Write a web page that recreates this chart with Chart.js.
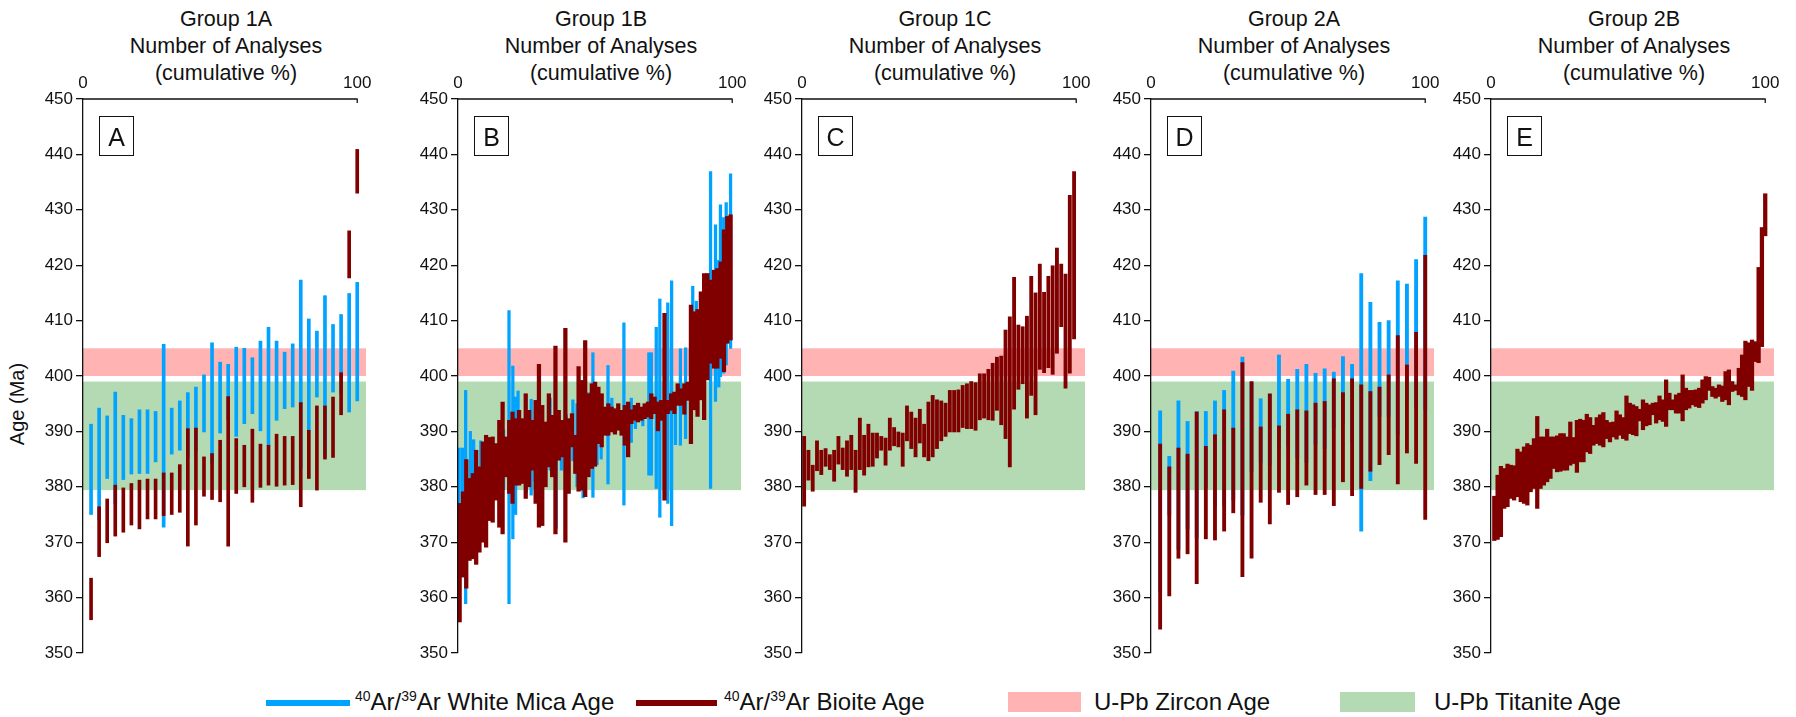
<!DOCTYPE html>
<html>
<head>
<meta charset="utf-8">
<script src="https://cdn.jsdelivr.net/npm/chart.js@4.4.0/dist/chart.umd.min.js"></script>
<style>
  body {
    margin: 0;
    width: 1796px;
    height: 717px;
    position: relative;
    overflow: hidden;
    background: #fff;
    font-family: "Liberation Sans", Arial, sans-serif;
    color: #111;
  }
  canvas { position: absolute; top: 0; }
  .title {
    position: absolute;
    top: 6px;
    width: 300px;
    text-align: center;
    font-size: 21.5px;
    line-height: 27px;
  }
  .tag {
    position: absolute;
    top: 116px;
    width: 33px;
    height: 38px;
    border: 1.5px solid #111;
    font-size: 25px;
    line-height: 40px;
    text-align: center;
  }
  .ytitle {
    position: absolute;
    left: -33px;
    top: 392px;
    width: 100px;
    text-align: center;
    font-size: 20px;
    line-height: 24px;
    transform: rotate(-90deg);
  }
  .swatch { position: absolute; }
  .legtxt {
    position: absolute;
    top: 688px;
    font-size: 24px;
    line-height: 28px;
    white-space: nowrap;
  }
  .legtxt sup { font-size: 14px; vertical-align: 9px; line-height: 0; }
</style>
</head>
<body>
<div class="ytitle">Age (Ma)</div>

<div class="swatch" style="left:266px;top:700px;width:84px;height:6px;background:#00a3ff"></div>
<span class="legtxt" style="left:355px"><sup>40</sup>Ar/<sup>39</sup>Ar White Mica Age</span>
<div class="swatch" style="left:636px;top:700px;width:81px;height:6px;background:#800000"></div>
<span class="legtxt" style="left:724px"><sup>40</sup>Ar/<sup>39</sup>Ar Bioite Age</span>
<div class="swatch" style="left:1008px;top:692px;width:73px;height:20px;background:#ffb3b3"></div>
<span class="legtxt" style="left:1094px">U-Pb Zircon Age</span>
<div class="swatch" style="left:1340px;top:692px;width:75px;height:20px;background:#b4dab4"></div>
<span class="legtxt" style="left:1434px">U-Pb Titanite Age</span>

<script>
const BLUE = "#00a3ff";
const RED = "#800000";
const FONT = "'Liberation Sans', Arial, sans-serif";

// tick labels
const ageTicks = [350, 360, 370, 380, 390, 400, 410, 420, 430, 440, 450];
const pctTicks = [0, 100];

// U-Pb reference ranges (Ma)
const zirconAge = [400, 405];
const titaniteAge = [379.4, 399];

const groupNames = ["Group 1A", "Group 1B", "Group 1C", "Group 2A", "Group 2B"];
const panelTags = ["A", "B", "C", "D", "E"];

// Group 1A  [low, high] in Ma
const micaA = [
  [375.0, 391.3], [374.1, 394.2], [381.5, 392.8], [377.0, 397.1], [381.3, 392.9],
  [382.3, 392.3], [382.4, 393.9], [382.4, 393.9], [384.5, 393.6], [372.7, 405.7],
  [385.9, 394.2], [386.6, 395.5], [385.3, 397.0], [386.5, 398.0], [389.9, 400.2],
  [384.2, 406.0], [389.7, 402.5], [392.1, 402.1], [389.1, 405.2], [391.4, 405.0],
  [393.2, 403.3], [390.1, 406.3], [387.5, 408.8], [392.0, 406.3], [394.1, 404.3],
  [394.4, 405.8], [383.3, 417.3], [390.2, 410.3], [396.2, 408.1], [385.4, 414.5],
  [397.1, 409.3], [396.8, 411.1], [393.5, 414.9], [395.5, 416.9]
];
const biotiteA = [
  [356.0, 363.5], [367.4, 376.4], [369.9, 377.8], [371.1, 380.3], [371.8, 379.8],
  [373.1, 380.6], [372.4, 381.2], [374.2, 381.4], [374.2, 381.4], [374.8, 382.5],
  [375.0, 382.5], [375.4, 384.0], [369.3, 390.5], [373.1, 390.6], [378.3, 385.4],
  [377.7, 386.0], [377.3, 388.4], [369.3, 396.3], [378.8, 388.7], [380.0, 387.5],
  [377.2, 390.4], [379.9, 387.7], [380.3, 387.5], [380.1, 389.5], [380.3, 389.1],
  [380.4, 389.1], [376.4, 395.2], [381.5, 390.2], [379.4, 394.6], [385.0, 394.6],
  [385.3, 396.2], [393.0, 400.6], [417.7, 426.2], [433.0, 440.9]
];

// Group 1B
const micaB_pct = [
  0.4, 1.6, 2.8, 4.5, 5.7, 8.3, 10.1, 13.4, 16.6, 18.6, 20.0, 21.0, 21.9, 24.9,
  26.7, 28.1, 29.5, 31.6, 33.6, 35.8, 37.7, 39.5, 41.9, 43.4, 45.6, 47.7, 49.2,
  50.7, 52.2, 54.7, 56.1, 57.7, 60.5, 63.2, 64.7, 67.4, 69.6, 70.5, 72.3, 73.6,
  76.5, 77.9, 79.3, 81.1, 83.0, 85.6, 86.9, 88.7, 92.1, 93.9, 95.1, 95.7, 96.9,
  97.8, 99.4
];
const micaB = [
  [376.5, 387.0], [378.0, 387.0], [358.9, 397.4], [373.0, 390.0], [376.0, 388.5],
  [374.0, 388.3], [380.0, 387.8], [378.0, 386.0], [379.5, 390.3], [358.9, 411.8],
  [370.6, 401.8], [375.0, 396.2], [381.0, 397.3], [379.0, 392.5], [378.5, 395.8],
  [381.0, 391.0], [382.0, 396.0], [381.5, 390.0], [383.0, 396.0], [372.5, 392.0],
  [383.0, 390.0], [385.0, 393.0], [384.7, 395.7], [380.0, 395.0], [378.0, 396.0],
  [384.0, 397.0], [378.1, 404.2], [384.0, 391.0], [385.0, 392.0], [380.5, 401.9],
  [390.0, 396.0], [390.5, 393.0], [376.7, 409.6], [388.0, 396.0], [390.5, 394.0],
  [391.0, 393.0], [382.1, 404.2], [382.1, 404.2], [379.7, 408.8], [374.5, 413.9],
  [377.0, 413.2], [373.0, 417.2], [387.6, 395.7], [387.5, 404.9], [388.7, 405.1],
  [394.5, 416.2], [395.0, 413.5], [396.0, 414.0], [379.7, 436.9], [395.4, 427.3],
  [398.0, 420.9], [399.9, 430.9], [400.5, 428.6], [402.0, 431.3], [405.0, 436.5]
];
const biotiteB = [
  [355.6, 377.0], [363.7, 379.1], [361.7, 384.9], [366.7, 381.5], [367.0, 382.4],
  [366.0, 386.6], [368.2, 383.6], [370.0, 388.1], [369.1, 389.3], [373.9, 388.9],
  [373.6, 389.0], [377.6, 387.8], [372.7, 392.0], [371.5, 395.3], [381.8, 389.0],
  [378.8, 392.0], [377.0, 393.5], [380.3, 392.3], [380.3, 393.8], [380.6, 392.3],
  [377.9, 396.8], [380.0, 393.8], [383.0, 392.0], [377.0, 395.6], [372.7, 402.1],
  [373.0, 394.7], [380.0, 391.7], [383.6, 396.8], [381.8, 392.9], [371.5, 405.4],
  [384.8, 393.8], [385.4, 392.0], [370.0, 408.6], [378.8, 392.3], [387.2, 393.2],
  [382.4, 389.3], [379.2, 401.7], [379.4, 399.2], [378.2, 406.4], [381.8, 396.8],
  [383.3, 398.6], [383.7, 398.9], [387.8, 398.0], [387.2, 396.8], [389.3, 394.4],
  [389.3, 395.0], [389.9, 394.4], [389.5, 394.1], [390.2, 395.0], [389.3, 393.8],
  [387.5, 394.7], [385.4, 395.3], [391.4, 393.9], [392.0, 394.7], [391.7, 395.1],
  [392.0, 394.4], [392.3, 395.0], [392.6, 395.3], [392.3, 396.8], [393.2, 396.2],
  [390.1, 395.3], [392.0, 395.6], [377.6, 411.3], [393.2, 395.6], [393.8, 396.8],
  [393.2, 397.1], [394.7, 398.6], [394.7, 397.7], [393.1, 398.6], [395.6, 398.9],
  [387.8, 412.8], [393.9, 411.6], [392.7, 412.0], [395.7, 415.2], [392.1, 418.5],
  [399.3, 418.5], [402.3, 417.3], [401.4, 419.1], [401.4, 419.4], [403.2, 420.6],
  [400.8, 426.4], [405.9, 428.8], [406.5, 429.1]
];

// Group 1C
const biotiteC = [
  [376.5, 389.1], [381.2, 386.6], [379.2, 383.9], [382.9, 388.3], [382.2, 386.6],
  [383.7, 386.9], [383.1, 385.8], [381.0, 386.6], [384.1, 389.1], [383.1, 387.0],
  [381.9, 388.3], [383.1, 389.3], [379.0, 386.6], [383.1, 392.4], [382.1, 389.3],
  [383.6, 391.3], [383.7, 389.7], [385.2, 389.7], [386.6, 389.1], [383.9, 388.8],
  [386.6, 392.4], [387.4, 390.7], [387.2, 389.9], [383.7, 389.7], [388.3, 394.6],
  [386.9, 393.5], [385.4, 392.4], [387.9, 394.0], [385.4, 391.3], [384.7, 395.3],
  [385.4, 396.5], [386.9, 395.7], [388.3, 395.5], [389.1, 395.1], [389.9, 397.4],
  [389.9, 397.4], [389.9, 397.5], [390.7, 398.3], [390.5, 398.6], [390.5, 399.0],
  [390.2, 398.8], [392.1, 400.4], [392.4, 400.4], [392.1, 401.2], [392.0, 402.3],
  [393.8, 403.4], [391.2, 403.6], [388.7, 408.3], [383.6, 410.7], [394.0, 417.8],
  [397.6, 409.2], [398.6, 408.9], [392.4, 410.8], [396.5, 418.0], [393.0, 415.0],
  [401.2, 420.2], [400.6, 415.1], [401.5, 418.0], [400.3, 419.9], [404.1, 423.1],
  [408.9, 420.2], [397.8, 418.4], [400.5, 432.6], [406.7, 436.9]
];

// Group 2A
const micaD = [
  [361.0, 393.7], [374.9, 385.5], [368.7, 395.5], [372.4, 391.8], [370.8, 393.6],
  [379.9, 393.6], [376.6, 395.5], [376.6, 397.4], [377.6, 400.9], [374.9, 403.4],
  [382.8, 398.8], [384.4, 395.9], [384.0, 396.7], [386.9, 403.8], [387.3, 399.4],
  [385.2, 401.2], [384.4, 402.1], [387.7, 400.5], [386.9, 401.3], [390.6, 400.7],
  [391.4, 403.5], [388.1, 402.1], [372.0, 418.5], [381.1, 413.3], [392.7, 409.7],
  [392.7, 410.0], [389.4, 417.2], [395.7, 416.6], [394.3, 421.0], [393.9, 428.7]
];
const biotiteD = [
  [354.3, 387.7], [360.3, 383.6], [367.1, 387.0], [367.9, 385.9], [362.5, 393.5],
  [370.6, 387.3], [370.4, 389.4], [372.0, 393.9], [375.3, 390.6], [363.8, 402.4],
  [367.1, 399.0], [377.2, 390.8], [373.3, 396.8], [379.0, 391.0], [376.8, 393.1],
  [378.2, 393.9], [380.3, 393.7], [378.6, 395.1], [378.6, 395.4], [376.6, 399.5],
  [380.9, 397.0], [378.4, 399.5], [379.7, 398.4], [382.8, 397.2], [384.0, 398.0],
  [385.8, 400.2], [380.5, 407.3], [386.1, 402.0], [384.2, 407.9], [374.1, 421.8]
];

// Group 2B
const biotiteE = [
  [370.3, 378.3], [370.5, 382.1], [371.0, 383.7], [376.1, 383.3], [376.4, 384.1],
  [377.9, 383.9], [377.6, 383.8], [378.2, 386.8], [377.3, 386.3], [377.0, 387.2],
  [376.7, 387.8], [379.1, 387.5], [379.7, 388.7], [376.1, 392.7], [379.7, 389.0],
  [380.3, 389.0], [380.9, 390.4], [381.5, 389.0], [383.3, 389.0], [382.7, 389.2],
  [382.8, 389.6], [383.0, 389.6], [383.0, 389.0], [383.9, 391.7], [384.2, 388.9],
  [382.6, 392.0], [384.5, 392.2], [384.5, 392.0], [386.3, 393.1], [386.0, 392.5],
  [387.5, 391.1], [387.8, 392.5], [387.5, 393.0], [387.2, 393.4], [388.7, 392.0],
  [388.1, 391.6], [389.0, 391.7], [388.6, 393.7], [389.3, 393.0], [388.7, 392.5],
  [388.4, 396.4], [389.6, 395.1], [389.4, 394.8], [389.2, 394.5], [391.9, 394.0],
  [390.3, 395.7], [391.0, 395.1], [391.2, 394.8], [393.0, 395.1], [391.5, 395.2],
  [392.1, 396.4], [391.8, 395.7], [390.9, 399.3], [393.9, 396.9], [393.9, 395.7],
  [393.3, 396.6], [393.3, 396.9], [391.9, 400.2], [393.9, 397.8], [394.2, 397.4],
  [394.8, 397.4], [394.5, 397.5], [394.3, 397.8], [395.1, 399.3], [395.7, 399.9],
  [397.4, 399.8], [396.3, 398.1], [396.0, 397.8], [396.3, 398.4], [395.4, 398.2],
  [395.7, 400.8], [394.8, 401.1], [397.2, 399.0], [397.4, 398.4], [396.6, 401.4],
  [396.3, 403.8], [395.7, 406.3], [398.1, 406.0], [397.4, 406.5], [402.6, 406.2],
  [402.4, 419.6], [405.3, 426.8], [425.3, 432.9]
];

// cumulative % of analyses for each ranked bar
function cumulative(list, start) {
  return list.map((r, i) => ({ x: ((i + start) / list.length) * 100, y: r }));
}
function atPct(list, pct) {
  return list.map((r, i) => ({ x: pct[i], y: r }));
}

const panels = [
  { axisX: 83, mica: cumulative(micaA, 1), biotite: cumulative(biotiteA, 1), micaW: 3, bioW: 3 },
  { axisX: 458, mica: atPct(micaB, micaB_pct), biotite: cumulative(biotiteB, 0.5), micaW: 2.6, bioW: 3.6 },
  { axisX: 802, mica: null, biotite: cumulative(biotiteC, 0.5), bioW: 3.2 },
  { axisX: 1151, mica: cumulative(micaD, 1), biotite: cumulative(biotiteD, 1), micaW: 3.2, bioW: 3.2 },
  { axisX: 1491, mica: null, biotite: cumulative(biotiteE, 1), bioW: 3.6 },
];

const X_MAX = 103.2; // the age bands run a little past 100 %
const CANVAS_W = 376;

const bandsPlugin = {
  id: "bands",
  beforeDatasetsDraw(chart) {
    const { ctx, scales: { x, y } } = chart;
    const x0 = x.getPixelForValue(0);
    const x1 = x.getPixelForValue(X_MAX);
    ctx.save();
    [[zirconAge, "#ffb3b3"], [titaniteAge, "#b4dab4"]].forEach(([range, color]) => {
      const top = y.getPixelForValue(range[1]);
      const bot = y.getPixelForValue(range[0]);
      ctx.fillStyle = color;
      ctx.fillRect(x0, top, x1 - x0, bot - top);
    });
    ctx.restore();
  },
  afterDraw(chart) {
    // top axis: line only spans 0..100 %, labels drawn here so they don't pad the layout
    const { ctx, chartArea, scales: { x } } = chart;
    const x0 = x.getPixelForValue(0);
    const x100 = x.getPixelForValue(100);
    ctx.save();
    ctx.strokeStyle = "#111";
    ctx.lineWidth = 1.3;
    ctx.beginPath();
    ctx.moveTo(x0, chartArea.top);
    ctx.lineTo(x100, chartArea.top);
    ctx.moveTo(x100, chartArea.top - 0.6);
    ctx.lineTo(x100, chartArea.top + 4);
    ctx.stroke();
    ctx.fillStyle = "#111";
    ctx.font = "17px " + FONT;
    ctx.textAlign = "center";
    ctx.textBaseline = "alphabetic";
    pctTicks.forEach((v) => ctx.fillText(String(v), x.getPixelForValue(v), chartArea.top - 11.5));
    ctx.restore();
  },
};

function makePanel(p, idx) {
  const title = document.createElement("div");
  title.className = "title";
  title.style.left = p.axisX + 143 - 150 + "px";
  title.innerHTML = groupNames[idx] + "<br>Number of Analyses<br>(cumulative %)";
  document.body.appendChild(title);

  const canvas = document.createElement("canvas");
  canvas.width = CANVAS_W;
  canvas.height = 717;
  canvas.style.left = p.axisX - 75 + "px";
  document.body.appendChild(canvas);

  const tag = document.createElement("div");
  tag.className = "tag";
  tag.style.left = p.axisX + 16 + "px";
  tag.textContent = panelTags[idx];
  document.body.appendChild(tag);

  // biotite first so it is painted over the white mica bars
  const datasets = [
    {
      label: "Biotite",
      data: p.biotite,
      backgroundColor: RED,
      barThickness: p.bioW,
      grouped: false,
      order: 0,
    },
  ];
  if (p.mica) {
    datasets.push({
      label: "White mica",
      data: p.mica,
      backgroundColor: BLUE,
      barThickness: p.micaW,
      grouped: false,
      order: 1,
    });
  }

  new Chart(canvas, {
    type: "bar",
    data: { datasets },
    options: {
      responsive: false,
      animation: false,
      devicePixelRatio: 1,
      layout: { padding: { top: 0, left: 0, right: CANVAS_W - 75 - 283, bottom: 64 } },
      plugins: { legend: { display: false }, tooltip: { enabled: false } },
      scales: {
        x: {
          type: "linear",
          position: "top",
          min: 0,
          max: X_MAX,
          offset: false,
          afterFit(s) { s.height = 99; },
          grid: { display: false, drawTicks: false, offset: false },
          border: { display: false },
          ticks: { display: false },
        },
        y: {
          min: 350,
          max: 450,
          afterFit(s) { s.width = 75; },
          afterBuildTicks(s) { s.ticks = ageTicks.map((v) => ({ value: v })); },
          grid: { drawOnChartArea: false, drawTicks: true, tickLength: 7, color: "#111", lineWidth: 1.3 },
          border: { display: true, color: "#111", width: 1.3, z: 1 },
          ticks: { padding: 3, color: "#111", font: { size: 17, family: FONT } },
        },
      },
    },
    plugins: [bandsPlugin],
  });
}

panels.forEach(makePanel);
</script>
</body>
</html>
